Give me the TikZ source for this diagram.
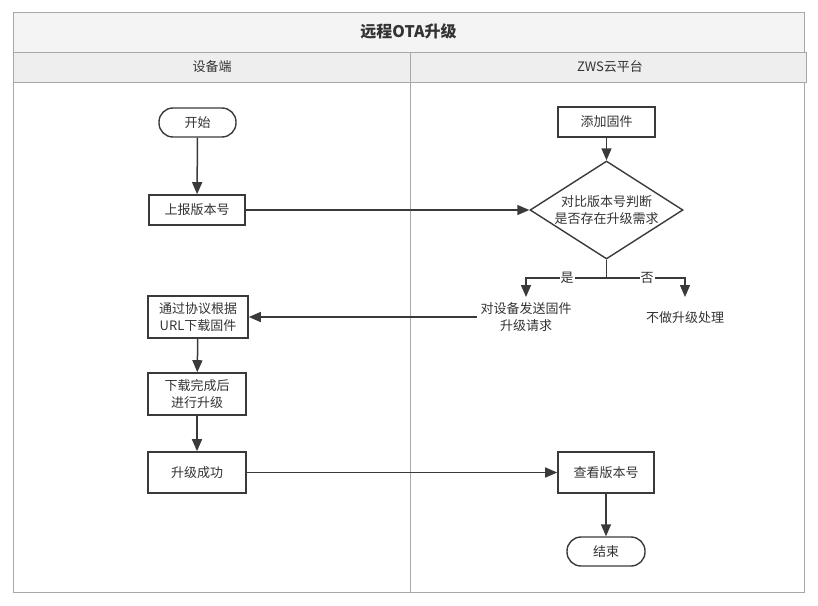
\documentclass[tikz,border=0pt]{standalone}
\usepackage{fontspec}
\setmainfont{Noto Sans CJK SC}
\usetikzlibrary{shapes.geometric,arrows.meta}
\definecolor{frameline}{HTML}{A8A8A8}
\definecolor{boxline}{HTML}{3A3A3A}
\definecolor{titlefill}{HTML}{F4F4F4}
\definecolor{headfill}{HTML}{EEEEEE}
\tikzset{
  stepbox/.style={draw=boxline, line width=1.6pt, minimum width=96pt, minimum height=30pt, align=center, inner sep=2pt},
  termbox/.style={draw=boxline, line width=1.4pt, rounded corners=14pt, minimum width=77pt, minimum height=29pt},
  decide/.style={draw=boxline, line width=1.4pt, diamond, aspect=1.56, minimum width=153pt, minimum height=98pt, align=center, inner sep=0pt},
  flow/.style={draw=boxline, line width=1.5pt, -{Triangle[length=12pt,width=10pt]}},
  txt/.style={font=\fontsize{13}{16.5}\selectfont, text=black!80}
}
\begin{document}
\begin{tikzpicture}[x=1pt, y=-1pt]
		\useasboundingbox (0,0) rectangle (818,605);
		% swimlane frame
		\draw[frameline, fill=titlefill] (13,12) rectangle (804,52);
		\draw[frameline, fill=headfill] (13,52) rectangle (806,82);
		\draw[frameline] (13,82) rectangle (804,592);
		\draw[frameline] (410,52) -- (410,592);
		\node[txt, font=\fontsize{16}{19}\selectfont\bfseries] (title) at (408.5,31.5) {远程OTA升级};
		\node[txt] (laneA) at (212,67) {设备端};
		\node[txt] (laneB) at (610,67) {ZWS云平台};
		% device side
		\node[termbox, txt] (start) at (197.5,122.5) {开始};
		\node[stepbox, txt] (report) at (197,210) {上报版本号};
		\node[stepbox, txt, minimum width=100pt, minimum height=42pt] (download) at (198,317) {通过协议根据\\URL下载固件};
		\node[stepbox, txt, minimum width=98pt, minimum height=42pt] (upgrade) at (197,394) {下载完成后\\进行升级};
		\node[stepbox, txt, minimum width=98pt, minimum height=41pt] (success) at (197,472.5) {升级成功};
		% platform side
		\node[stepbox, txt, minimum width=97pt] (addfw) at (606.5,122) {添加固件};
		\node[decide, txt] (check) at (606.5,210) {对比版本号判断\\是否存在升级需求};
		\node[txt, align=center] (request) at (526,317) {对设备发送固件\\升级请求};
		\node[txt] (skip) at (685,318) {不做升级处理};
		\node[stepbox, txt, minimum width=96pt, minimum height=41pt] (verify) at (606,472.5) {查看版本号};
		\node[termbox, txt, minimum width=78pt] (finish) at (606,551.5) {结束};
		\coordinate (split) at (606.5,278);
		% connectors
		\draw[flow] (start) -- (report);
		\draw[flow] (report) -- (check);
		\draw[flow] (addfw) -- (check);
		\draw[boxline, line width=1.5pt] (check.south) -- (split);
		\draw[flow] (split) -- (526,278) -- (526,297);
		\draw[flow] (split) -- (685,278) -- (685,297);
		\node[txt, fill=white, inner sep=1pt] (yes) at (567,278) {是};
		\node[txt, fill=white, inner sep=1pt] (no) at (647,278) {否};
		\draw[flow] (request.west) -- (download.east);
		\draw[flow] (download) -- (upgrade);
		\draw[flow] (upgrade) -- (success);
		\draw[flow] (success) -- (verify);
		\draw[flow] (verify) -- (finish);
	\end{tikzpicture}
\end{document}
